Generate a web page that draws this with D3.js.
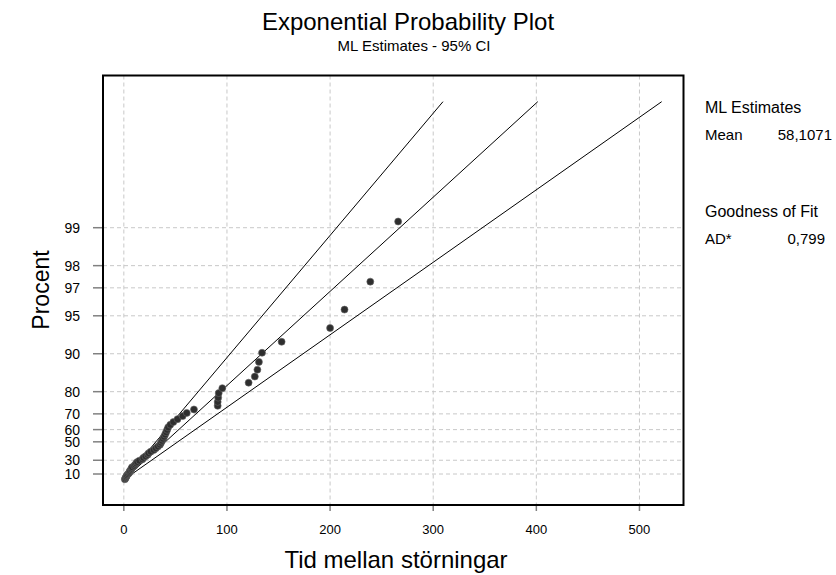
<!DOCTYPE html>
<html lang="en">
<head>
  <meta charset="UTF-8">
  <title>Exponential Probability Plot</title>
  <style>
    body { margin: 0; background: #fff; }
    svg { font-family: "Liberation Sans", Arial, sans-serif; }
    .grid line { stroke: #c8c8c8; stroke-dasharray: 4,3; }
    .tick-mark { stroke: #808080; }
  </style>
</head>
<body>
  <svg id="chart"></svg>

  <script src="https://d3js.org/d3.v7.min.js"></script>
  <script>
    // sorted times between faults
    const times = [1, 1.5, 2, 2.5, 3, 4, 5, 5.5, 6, 7, 7.5, 8,
                   10, 11, 12, 13, 15, 18, 19, 21,
                   23, 24, 26, 29, 31, 33, 35,
                   36, 37, 38, 39, 40, 41, 42, 43,
                   45, 48, 52, 57, 61, 68,
                   91, 91, 91.5, 92, 95.5,
                   121, 127, 129.5, 131, 134, 153,
                   200, 214, 239, 266];
    const yTicks = [10, 30, 50, 60, 70, 80, 90, 95, 97, 98, 99];
    const xTicks = [0, 100, 200, 300, 400, 500];
    const meanEst = 58.1071;
    const ciMeans = [44.8, 75.5];      // 95% CI lines
    const lineProbs = [0.001, 0.999];  // span of fitted lines
    const stats = [
      { head: "ML Estimates", rows: [["Mean", "58,1071"]] },
      { head: "Goodness of Fit", rows: [["AD*", "0,799"]] }
    ];

    const W = 836, H = 575;
    const L = 103, R = 683.5, T = 75.5, B = 505;

    const svg = d3.select("#chart").attr("width", W).attr("height", H);

    const tr = p => -Math.log(1 - p);

    const x = d3.scaleLinear().domain([-20.2, 542.7]).range([L, R]);
    const y = d3.scaleLinear().domain([-0.461, 7.386]).range([B, T]);

    // grid
    const grid = svg.append("g").attr("class", "grid");
    grid.selectAll(".gx").data(xTicks).enter().append("line")
      .attr("x1", d => x(d)).attr("x2", d => x(d))
      .attr("y1", T).attr("y2", B);
    grid.selectAll(".gy").data(yTicks).enter().append("line")
      .attr("x1", L).attr("x2", R)
      .attr("y1", d => y(tr(d / 100))).attr("y2", d => y(tr(d / 100)));

    // ticks + labels
    svg.selectAll(".ty").data(yTicks).enter().append("line")
      .attr("class", "tick-mark")
      .attr("x1", L - 10).attr("x2", L)
      .attr("y1", d => y(tr(d / 100))).attr("y2", d => y(tr(d / 100)))
      .attr("stroke-width", 1.5);
    svg.selectAll(".ly").data(yTicks).enter().append("text")
      .attr("x", 80).attr("y", d => y(tr(d / 100)))
      .attr("dy", "0.36em").attr("text-anchor", "end")
      .attr("font-size", 14).text(d => d);

    svg.selectAll(".tx").data(xTicks).enter().append("line")
      .attr("class", "tick-mark")
      .attr("x1", d => x(d)).attr("x2", d => x(d))
      .attr("y1", B).attr("y2", B + 6)
      .attr("stroke-width", 1.5);
    svg.selectAll(".lx").data(xTicks).enter().append("text")
      .attr("x", d => x(d)).attr("y", 534)
      .attr("text-anchor", "middle")
      .attr("font-size", 13).text(d => d);

    // fitted line and CI lines
    const lines = [ciMeans[0], meanEst, ciMeans[1]];
    svg.selectAll(".fit").data(lines).enter().append("line")
      .attr("x1", d => x(d * tr(lineProbs[0])))
      .attr("y1", y(tr(lineProbs[0])))
      .attr("x2", d => x(d * tr(lineProbs[1])))
      .attr("y2", y(tr(lineProbs[1])))
      .attr("stroke", "#000").attr("stroke-width", 1);

    // points, modified Kaplan-Meier plotting positions
    const n = times.length;
    svg.selectAll(".pt").data(times).enter().append("circle")
      .attr("cx", d => x(d))
      .attr("cy", (d, i) => y(tr((i + 0.5) / n)))
      .attr("r", 3.5)
      .attr("fill", "#2e2e2e")
      .attr("stroke", "#666").attr("stroke-width", 0.6);

    // frame
    svg.append("rect")
      .attr("x", L).attr("y", T).attr("width", R - L).attr("height", B - T)
      .attr("fill", "none").attr("stroke", "#000").attr("stroke-width", 2);

    // titles
    svg.append("text").attr("x", 408).attr("y", 30)
      .attr("text-anchor", "middle").attr("font-size", 24)
      .text("Exponential Probability Plot");
    svg.append("text").attr("x", 414).attr("y", 51)
      .attr("text-anchor", "middle").attr("font-size", 15)
      .text("ML Estimates - 95% CI");
    svg.append("text").attr("x", 396).attr("y", 568)
      .attr("text-anchor", "middle").attr("font-size", 24)
      .text("Tid mellan störningar");
    svg.append("text")
      .attr("transform", "translate(49,290) rotate(-90)")
      .attr("text-anchor", "middle").attr("font-size", 23)
      .text("Procent");

    // stats panel
    const panel = svg.append("g");
    stats.forEach((s, k) => {
      const y0 = 113 + k * 104;
      panel.append("text").attr("x", 705).attr("y", y0)
        .attr("font-size", 16).text(s.head);
      s.rows.forEach((r, j) => {
        panel.append("text").attr("x", 705).attr("y", y0 + 27 + j * 20)
          .attr("font-size", 15).text(r[0]);
        panel.append("text").attr("x", k === 0 ? 832 : 825).attr("y", y0 + 27 + j * 20)
          .attr("text-anchor", "end").attr("font-size", 15).text(r[1]);
      });
    });
  </script>
</body>
</html>
